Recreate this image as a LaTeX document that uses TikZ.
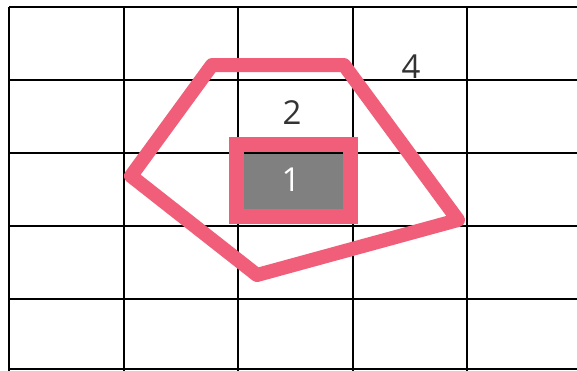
\documentclass[tikz,border=0pt]{standalone}
\usepackage{fontspec}
\setmainfont{Open Sans}
\definecolor{pinkline}{RGB}{241,94,121}
\definecolor{cellgray}{RGB}{128,128,128}
\definecolor{labelgray}{RGB}{51,51,51}
\tikzset{
  gridline/.style={line width=2.5pt, black},
  outline/.style={line width=14pt, pinkline, line join=round},
  boxline/.style={line width=15pt, pinkline, line join=miter},
  lbl/.style={font=\fontsize{33}{33}\selectfont, text=labelgray, inner sep=0pt},
}
\begin{document}
\begin{tikzpicture}[x=1pt,y=-1pt]
\useasboundingbox (0,0) rectangle (577,370);
\fill[white] (0,0) rectangle (577,370);
% gray cell
\fill[cellgray] (244,153) rectangle (346,212);
% grid
\foreach \x in {9,124,238,353,467} \draw[gridline] (\x,7) -- (\x,372);
\foreach \y in {7,80,153,226,299,369} \draw[gridline] (9,\y) -- (580,\y);
% polygon
\coordinate (pA) at (212,65);
\coordinate (pB) at (344,65);
\coordinate (pC) at (458,220);
\coordinate (pD) at (257,275);
\coordinate (pE) at (131,176);
\draw[outline] (pA) -- (pB) -- (pC) -- (pD) -- (pE) -- cycle;
% box
\draw[boxline] (236,144) rectangle (350,216);
% labels
\node[lbl] (one) at (291,180) {\textcolor{white}{1}};
\node[lbl] (two) at (292,113) {2};
\node[lbl] (four) at (411,67) {4};
\end{tikzpicture}
\end{document}
